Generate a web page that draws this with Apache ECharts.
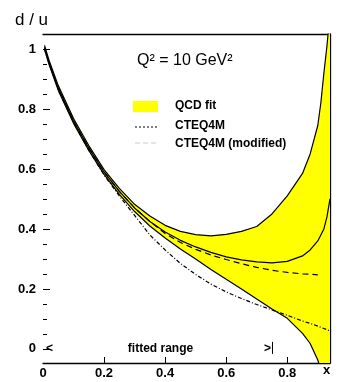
<!DOCTYPE html>
<html>
<head>
<meta charset="utf-8">
<script src="https://cdn.jsdelivr.net/npm/echarts@6/dist/echarts.min.js"></script>
<style>
  html, body { margin: 0; padding: 0; background: #fff; }
  #chart { width: 363px; height: 382px; }
</style>
</head>
<body>
<div id="chart"></div>
<script>
// x grid shared by all curves
const xs = [0.005, 0.02, 0.05, 0.1, 0.15, 0.2, 0.25, 0.3, 0.35, 0.4, 0.45, 0.5, 0.55, 0.6, 0.65, 0.7, 0.75, 0.8, 0.85, 0.875, 0.9, 0.91, 0.92, 0.93, 0.94];

// QCD fit band (upper / lower edge) and central value
const bandUpper = [1.012, 0.962, 0.878, 0.768, 0.678, 0.598, 0.535, 0.482, 0.443, 0.412, 0.392, 0.381, 0.377, 0.382, 0.392, 0.408, 0.45, 0.51, 0.585, 0.65, 0.745, 0.82, 0.92, 1.01, 1.12];
const bandLower = [0.998, 0.948, 0.862, 0.752, 0.662, 0.582, 0.515, 0.458, 0.41, 0.37, 0.333, 0.3, 0.265, 0.232, 0.2, 0.166, 0.133, 0.102, 0.052, 0.018, -0.037, -0.07, -0.11, -0.15, -0.2];
const qcdCentral = [1.005, 0.955, 0.87, 0.76, 0.67, 0.59, 0.525, 0.47, 0.425, 0.39, 0.362, 0.34, 0.322, 0.307, 0.297, 0.29, 0.287, 0.292, 0.31, 0.33, 0.36, 0.38, 0.40, 0.44, 0.50];

// CTEQ4M and CTEQ4M (modified)
const cteq4m = [1.0, 0.95, 0.865, 0.755, 0.662, 0.58, 0.51, 0.445, 0.38, 0.33, 0.285, 0.248, 0.216, 0.19, 0.168, 0.148, 0.13, 0.112, 0.093, 0.085, 0.076, 0.072, 0.068, 0.064, 0.06];
const cteq4mMod = [1.005, 0.955, 0.87, 0.76, 0.67, 0.59, 0.525, 0.47, 0.425, 0.385, 0.355, 0.332, 0.313, 0.298, 0.284, 0.272, 0.262, 0.255, 0.25, 0.249, 0.247, null, null, null, null];

// fitted range marker
const fitRange = [0, 0.75];

// axis ticks
const xLabelValues = [0, 0.2, 0.4, 0.6, 0.8];
const yLabelValues = [0, 0.2, 0.4, 0.6, 0.8, 1];
const yMinorTicks = [0.05, 0.1, 0.15, 0.25, 0.3, 0.35, 0.45, 0.5, 0.55, 0.65, 0.7, 0.75, 0.85, 0.9, 0.95];

const FONT = '"Liberation Sans", Arial, sans-serif';

const toPairs = (arr) => xs.map((x, i) => [x, arr[i]]).filter(p => p[1] != null);

const lineSeries = (name, arr, type) => ({
  name,
  type: 'line',
  data: toPairs(arr),
  showSymbol: false,
  symbol: 'none',
  clip: true,
  z: 3,
  lineStyle: { color: '#000', width: 1.2, type: type || 'solid' }
});

const chart = echarts.init(document.getElementById('chart'), null, { renderer: 'canvas' });

const option = {
  animation: false,
  backgroundColor: '#fff',
  grid: { left: 43, right: 33, top: 34, bottom: 19 },
  xAxis: [
    {
      type: 'value', min: 0, max: 0.94, position: 'bottom',
      axisLine: { show: true, onZero: false, lineStyle: { color: '#000', width: 1.3 } },
      axisTick: { show: true, inside: true, length: 6, customValues: [0.2, 0.4, 0.6, 0.8], lineStyle: { color: '#000', width: 1 } },
      axisLabel: { customValues: xLabelValues, margin: 4, color: '#000', fontFamily: FONT, fontSize: 13, fontWeight: 'bold' },
      splitLine: { show: false }
    },
    {
      type: 'value', min: 0, max: 0.94, position: 'top',
      axisLine: { show: true, onZero: false, lineStyle: { color: '#000', width: 1.3 } },
      axisTick: { show: false }, axisLabel: { show: false }, splitLine: { show: false }
    }
  ],
  yAxis: [
    {
      type: 'value', min: -0.047, max: 1.05, position: 'left',
      axisLine: { show: false, onZero: false },
      axisTick: { show: true, inside: true, length: 7, customValues: yLabelValues, lineStyle: { color: '#000', width: 1 } },
      axisLabel: { customValues: yLabelValues, margin: 7, color: '#000', fontFamily: FONT, fontSize: 13, fontWeight: 'bold' },
      splitLine: { show: false }
    },
    {
      type: 'value', min: -0.047, max: 1.05, position: 'right',
      axisLine: { show: true, onZero: false, lineStyle: { color: '#000', width: 1.3 } },
      axisTick: { show: false }, axisLabel: { show: false }, splitLine: { show: false }
    },
    {
      type: 'value', min: -0.047, max: 1.05, position: 'left',
      axisLine: { show: false, onZero: false },
      axisTick: { show: true, inside: true, length: 4, customValues: yMinorTicks, lineStyle: { color: '#000', width: 1 } },
      axisLabel: { show: false }, splitLine: { show: false }
    }
  ],
  series: [
    {
      name: 'QCD fit',
      type: 'custom',
      clip: true,
      z: 1,
      data: xs.map((x, i) => [x, bandLower[i], bandUpper[i]]),
      encode: { x: 0, y: [1, 2] },
      renderItem: (params, api) => {
        if (params.dataIndex !== 0) return null;
        const pts = [];
        for (let i = 0; i < xs.length; i++) pts.push(api.coord([xs[i], bandUpper[i]]));
        for (let i = xs.length - 1; i >= 0; i--) pts.push(api.coord([xs[i], bandLower[i]]));
        return { type: 'polygon', shape: { points: pts }, style: { fill: '#ffff00', stroke: null } };
      }
    },
    lineSeries('upper', bandUpper),
    lineSeries('lower', bandLower),
    lineSeries('central', qcdCentral),
    lineSeries('CTEQ4M (modified)', cteq4mMod, [6, 4]),
    lineSeries('CTEQ4M', cteq4m, [4, 2, 1, 2]),
    {
      name: 'fitted range',
      type: 'custom',
      z: 4,
      data: [[fitRange[0], fitRange[1], 0]],
      renderItem: (params, api) => {
        const a = api.coord([api.value(0), api.value(2)]);
        const b = api.coord([api.value(1), api.value(2)]);
        const font = 'bold 12px ' + FONT;
        return {
          type: 'group',
          children: [
            { type: 'text', style: { text: '<', x: a[0] + 3, y: a[1], verticalAlign: 'middle', font, fill: '#000' } },
            { type: 'text', style: { text: 'fitted range', x: (a[0] + b[0]) / 2 + 3, y: a[1], align: 'center', verticalAlign: 'middle', font, fill: '#000' } },
            { type: 'text', style: { text: '>', x: b[0] - 1, y: a[1], align: 'right', verticalAlign: 'middle', font, fill: '#000' } },
            { type: 'line', shape: { x1: b[0] + 0.5, y1: a[1] - 7, x2: b[0] + 0.5, y2: a[1] + 5 }, style: { stroke: '#000', lineWidth: 1 } }
          ]
        };
      }
    }
  ],
  graphic: [
    { type: 'text', left: 15, top: 12, style: { text: 'd / u', font: '17px ' + FONT, fill: '#000' } },
    { type: 'text', left: 323, top: 364, style: { text: 'x', font: 'bold 13px ' + FONT, fill: '#000' } },
    { type: 'text', left: 137, top: 53, style: { text: 'Q² = 10 GeV²', font: '16px ' + FONT, fill: '#000' } },
    // legend
    { type: 'rect', shape: { x: 133, y: 101, width: 25, height: 11 }, style: { fill: '#ffff00' } },
    { type: 'text', left: 175, top: 100, style: { text: 'QCD fit', font: 'bold 12px ' + FONT, fill: '#000' } },
    { type: 'line', shape: { x1: 135, y1: 127, x2: 158, y2: 127 }, style: { stroke: '#000', lineWidth: 1, lineDash: [2, 2] } },
    { type: 'text', left: 175, top: 120, style: { text: 'CTEQ4M', font: 'bold 12px ' + FONT, fill: '#000' } },
    { type: 'line', shape: { x1: 135, y1: 143, x2: 158, y2: 143 }, style: { stroke: '#ccc', lineWidth: 1, lineDash: [5, 3] } },
    { type: 'text', left: 175, top: 138, style: { text: 'CTEQ4M (modified)', font: 'bold 12px ' + FONT, fill: '#000' } }
  ]
};

chart.setOption(option);
</script>
</body>
</html>
